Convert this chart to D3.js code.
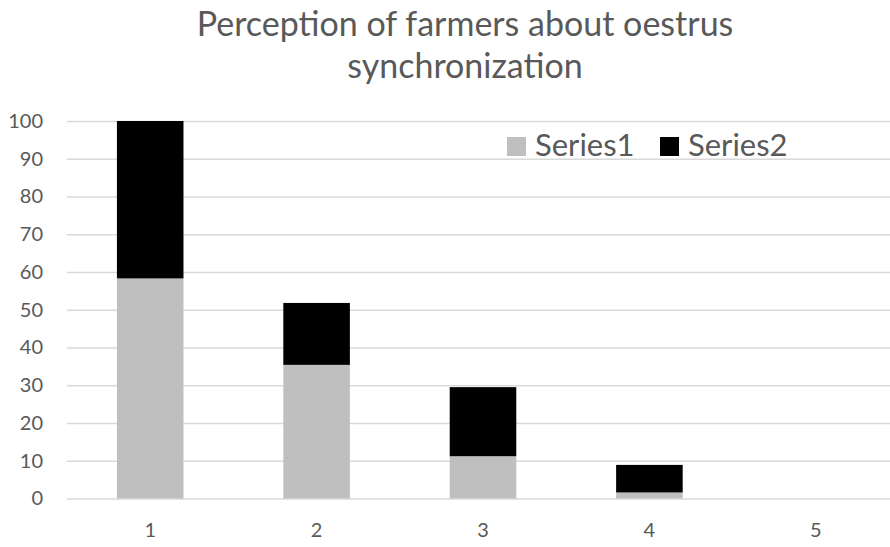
<!DOCTYPE html>
<html>
<head>
<meta charset="utf-8">
<script src="https://cdn.jsdelivr.net/npm/d3@7"></script>
<style>
  html, body { margin: 0; padding: 0; background: #fff; }
  svg { display: block; }
</style>
</head>
<body>
<svg id="chart" width="890" height="547"></svg>
<script>
// Stacked column chart: perception of farmers about oestrus synchronization
const categories = ["1", "2", "3", "4", "5"];
const series1 = [58.3, 35.4, 11.2, 1.6, 0];
const series2 = [41.7, 16.4, 18.3, 7.3, 0];
const seriesNames = ["Series1", "Series2"];
const seriesColors = ["#bfbfbf", "#000000"];
const yTicks = [0, 10, 20, 30, 40, 50, 60, 70, 80, 90, 100];
const titleLines = ["Perception of farmers about oestrus", "synchronization"];

const svg = d3.select("#chart");
const textColor = "#595959";
const fontFamily = "Lato, 'Open Sans', sans-serif";

const plot = { left: 67, right: 899, top: 121, bottom: 498.5 };

const x = d3.scaleBand()
  .domain(categories)
  .range([plot.left, plot.right])
  .paddingInner(0.6)
  .paddingOuter(0.3);

const y = d3.scaleLinear()
  .domain([0, 100])
  .range([plot.bottom, plot.top]);

// Gridlines and y-axis labels
const yAxis = d3.axisLeft(y)
  .tickValues(yTicks)
  .tickSize(-(plot.right - plot.left))
  .tickPadding(24)
  .tickFormat(d3.format("d"));

const gy = svg.append("g")
  .attr("transform", `translate(${plot.left},0)`)
  .call(yAxis);
gy.select(".domain").remove();
gy.selectAll(".tick line").attr("stroke", "#d9d9d9").attr("stroke-width", 1.5);
gy.selectAll(".tick text")
  .attr("fill", textColor)
  .style("font-family", fontFamily)
  .style("font-size", "20px");

// Stacked bars
const rows = categories.map((c, i) => ({ cat: c, Series1: series1[i], Series2: series2[i] }));
const stacked = d3.stack().keys(seriesNames)(rows);

svg.append("g").selectAll("g")
  .data(stacked)
  .join("g")
  .attr("fill", (d, i) => seriesColors[i])
  .selectAll("rect")
  .data(d => d)
  .join("rect")
  .attr("x", d => x(d.data.cat))
  .attr("width", x.bandwidth())
  .attr("y", d => y(d[1]))
  .attr("height", d => y(d[0]) - y(d[1]));

// X-axis category labels
const xAxis = d3.axisBottom(x).tickSize(0).tickPadding(24);
const gx = svg.append("g")
  .attr("transform", `translate(0,${plot.bottom})`)
  .call(xAxis);
gx.select(".domain").remove();
gx.selectAll(".tick text")
  .attr("fill", textColor)
  .style("font-family", fontFamily)
  .style("font-size", "20px");

// Title
svg.append("text")
  .attr("y", 36)
  .attr("text-anchor", "middle")
  .attr("fill", textColor)
  .style("font-family", fontFamily)
  .style("font-size", "34px")
  .selectAll("tspan")
  .data(titleLines)
  .join("tspan")
  .attr("x", 465)
  .attr("dy", (d, i) => i === 0 ? 0 : 42)
  .text(d => d);

// Legend
const legend = svg.append("g");
const legendX = [507, 660];
seriesNames.forEach((name, i) => {
  const g = legend.append("g").attr("transform", `translate(${legendX[i]},137)`);
  g.append("rect").attr("width", 19).attr("height", 19).attr("fill", seriesColors[i]);
  g.append("text")
    .attr("x", 28)
    .attr("y", 19)
    .attr("fill", textColor)
    .style("font-family", fontFamily)
    .style("font-size", "31px")
    .text(name);
});
</script>
</body>
</html>
